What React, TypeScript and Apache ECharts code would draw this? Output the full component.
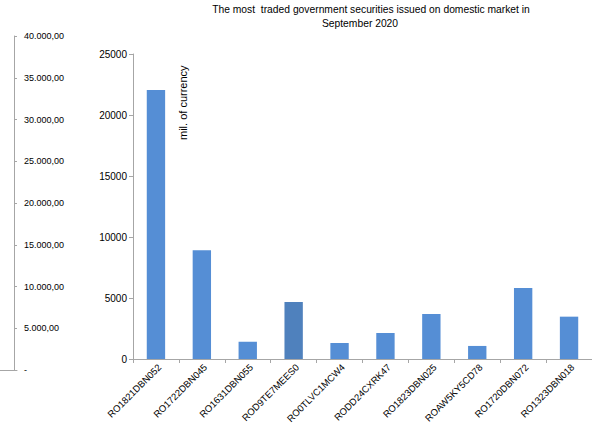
import { useEffect, useRef } from 'react';
import * as echarts from 'echarts';

// Securities and traded volume (mil. of currency)
const categories = [
  'RO1821DBN052',
  'RO1722DBN045',
  'RO1631DBN055',
  'ROD9TE7MEES0',
  'RO0TLVC1MCW4',
  'RODD24CXRK47',
  'RO1823DBN025',
  'ROAW5KY5CD78',
  'RO1720DBN072',
  'RO1323DBN018',
];
const volumes = [22050, 8910, 1420, 4670, 1310, 2130, 3690, 1070, 5820, 3470];
const barColors = [
  '#558ED5', '#558ED5', '#558ED5', '#4F81BD', '#558ED5',
  '#558ED5', '#558ED5', '#558ED5', '#558ED5', '#558ED5',
];

// Primary value axis
const mainMax = 25000;
const mainStep = 5000;

// Secondary (empty) value axis
const sideMax = 40000;
const sideStep = 5000;

const titleLines = [
  'The most  traded government securities issued on domestic market in',
  'September 2020',
];
const unitLabel = 'mil. of currency';

const FONT = '"Liberation Sans", Arial, sans-serif';
const AXIS_GRAY = '#A6A6A6';

function formatEuro(v: number): string {
  if (v === 0) return '-';
  const int = Math.round(v).toString().replace(/\B(?=(\d{3})+(?!\d))/g, '.');
  return int + ',00';
}

const titleStyle = {
  fontFamily: FONT,
  fontSize: 10.3,
  fontWeight: 'normal',
  color: '#000',
};

export default function App() {
  const ref = useRef<HTMLDivElement>(null);

  useEffect(() => {
    document.body.style.margin = '0';
    if (!ref.current) return;
    const chart = echarts.init(ref.current, undefined, { renderer: 'svg' });
    chart.setOption({
      animation: false,
      backgroundColor: '#ffffff',
      textStyle: { fontFamily: FONT },
      title: [
        {
          text: titleLines[0],
          left: 371,
          top: 4,
          padding: 0,
          textAlign: 'center',
          textStyle: titleStyle,
        },
        {
          text: titleLines[1],
          left: 360,
          top: 18,
          padding: 0,
          textAlign: 'center',
          textStyle: titleStyle,
        },
      ],
      grid: [
        {
          left: 133,
          right: 0,
          top: 54,
          bottom: 66,
          containLabel: false,
          outerBoundsMode: 'none',
        },
        {
          left: 0,
          width: 17,
          top: 36,
          bottom: 55,
          containLabel: false,
          outerBoundsMode: 'none',
        },
      ],
      xAxis: [
        {
          type: 'category',
          gridIndex: 0,
          data: categories,
          axisLine: { lineStyle: { color: AXIS_GRAY, width: 1 } },
          axisTick: { show: true, length: 4, lineStyle: { color: AXIS_GRAY } },
          axisLabel: {
            rotate: 45,
            interval: 0,
            margin: 3,
            verticalAlign: 'top',
            fontSize: 9.5,
            color: '#000',
            fontFamily: FONT,
          },
        },
        {
          type: 'category',
          gridIndex: 1,
          data: [''],
          axisLine: { lineStyle: { color: AXIS_GRAY, width: 1 } },
          axisTick: { show: false },
          axisLabel: { show: false },
        },
      ],
      yAxis: [
        {
          type: 'value',
          gridIndex: 0,
          min: 0,
          max: mainMax,
          interval: mainStep,
          splitLine: { show: false },
          axisLine: { show: true, lineStyle: { color: AXIS_GRAY, width: 1 } },
          axisTick: { show: true, length: 4, lineStyle: { color: AXIS_GRAY } },
          axisLabel: {
            fontSize: 10,
            color: '#000',
            margin: 6,
            fontFamily: FONT,
            formatter: (v: number) => String(v),
          },
        },
        {
          type: 'value',
          gridIndex: 1,
          min: 0,
          max: sideMax,
          interval: sideStep,
          offset: -14,
          splitLine: { show: false },
          axisLine: { show: true, lineStyle: { color: AXIS_GRAY, width: 1 } },
          axisTick: { show: true, inside: true, length: 3, lineStyle: { color: AXIS_GRAY } },
          axisLabel: {
            inside: true,
            margin: 10,
            fontSize: 9,
            color: '#000',
            fontFamily: FONT,
            formatter: (v: number) => formatEuro(v),
          },
        },
      ],
      graphic: [
        {
          type: 'text',
          x: 177,
          y: 140,
          rotation: Math.PI / 2,
          style: {
            text: unitLabel,
            fontFamily: FONT,
            fontSize: 11,
            fill: '#000',
            textAlign: 'left',
            textVerticalAlign: 'top',
          },
        },
      ],
      series: [
        {
          type: 'bar',
          xAxisIndex: 0,
          yAxisIndex: 0,
          barWidth: '40%',
          data: volumes.map((v, i) => ({
            value: v,
            itemStyle: { color: barColors[i] },
          })),
        },
      ],
    });
    return () => chart.dispose();
  }, []);

  return <div ref={ref} style={{ width: 592, height: 425 }} />;
}
